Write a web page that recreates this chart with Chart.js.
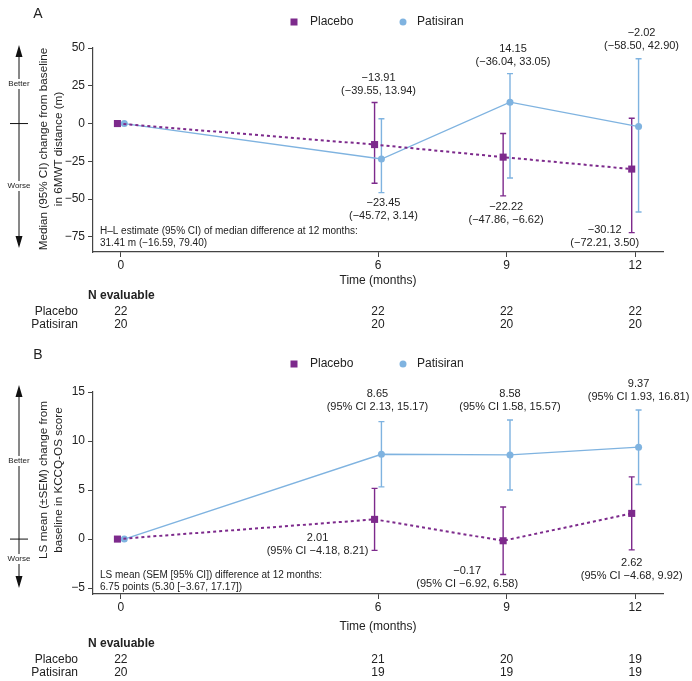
<!DOCTYPE html>
<html>
<head>
<meta charset="utf-8">
<script src="https://cdn.jsdelivr.net/npm/chart.js@4/dist/chart.umd.min.js"></script>
<style>
  body { margin: 0; background: #fff; }
  #wrap { position: relative; width: 692px; height: 681px; }
  canvas { position: absolute; left: 0; }
</style>
</head>
<body>
<div id="wrap">
  <canvas id="chartA" width="692" height="340" style="top:0"></canvas>
  <canvas id="chartB" width="692" height="341" style="top:340px"></canvas>
</div>
<script>
// time points and tick labels
const months = [0, 6, 9, 12];
const xTicks = [0, 6, 9, 12];

// panel A - 6MWT, median with 95% CI
const yTicksA = [-75, -50, -25, 0, 25, 50];
const placeboA = [0, -13.91, -22.22, -30.12];
const placeboALow = [0, -39.55, -47.86, -72.21];
const placeboAHigh = [0, 13.94, -6.62, 3.50];
const patisiranA = [0, -23.45, 14.15, -2.02];
const patisiranALow = [0, -45.72, -36.04, -58.50];
const patisiranAHigh = [0, 3.14, 33.05, 42.90];
const nPlaceboA = [22, 22, 22, 22];
const nPatisiranA = [20, 20, 20, 20];

// panel B - KCCQ-OS, LS mean with SEM bars, 95% CI in labels
const yTicksB = [-5, 0, 5, 10, 15];
const placeboB = [0, 2.01, -0.17, 2.62];
const placeboBSemLow = [0, -1.15, -3.61, -1.10];
const placeboBSemHigh = [0, 5.17, 3.27, 6.34];
const placeboBCILow = [0, -4.18, -6.92, -4.68];
const placeboBCIHigh = [0, 8.21, 6.58, 9.92];
const patisiranB = [0, 8.65, 8.58, 9.37];
const patisiranBSemLow = [0, 5.32, 5.01, 5.57];
const patisiranBSemHigh = [0, 11.98, 12.15, 13.17];
const patisiranBCILow = [0, 2.13, 1.58, 1.93];
const patisiranBCIHigh = [0, 15.17, 15.57, 16.81];
const nPlaceboB = [22, 21, 20, 19];
const nPatisiranB = [20, 19, 19, 19];

const FONT = '"Liberation Sans", Arial, sans-serif';
const PURPLE = '#7d2a8c';
const BLUE = '#7fb3e0';
const TEXT = '#222';
const AXIS = '#444';
const SHIFT = 0.08; // side-by-side offset so the bars don't overlap

function fmt(v) {
  return v.toFixed(2).replace('-', '\u2212');
}

// draws the whiskers under the points
const errorBars = {
  id: 'errorBars',
  beforeDatasetsDraw(chart) {
    const ctx = chart.ctx, y = chart.scales.y;
    chart.data.datasets.forEach((ds, di) => {
      const meta = chart.getDatasetMeta(di);
      ctx.save();
      ctx.strokeStyle = ds.borderColor;
      ctx.lineWidth = 1.4;
      meta.data.forEach((pt, i) => {
        if (ds.errLow[i] === ds.errHigh[i]) return;
        const top = y.getPixelForValue(ds.errHigh[i]);
        const bot = y.getPixelForValue(ds.errLow[i]);
        ctx.beginPath();
        ctx.moveTo(pt.x, top); ctx.lineTo(pt.x, bot);
        ctx.moveTo(pt.x - 3, top); ctx.lineTo(pt.x + 3, top);
        ctx.moveTo(pt.x - 3, bot); ctx.lineTo(pt.x + 3, bot);
        ctx.stroke();
      });
      ctx.restore();
    });
  }
};

// everything around the plot: legend, titles, arrow, labels, N table
const decorations = {
  id: 'decorations',
  afterDraw(chart, args, o) {
    const ctx = chart.ctx, x = chart.scales.x, y = chart.scales.y;
    ctx.save();
    ctx.fillStyle = TEXT;
    ctx.textBaseline = 'middle';

    // panel letter
    ctx.font = '14px ' + FONT;
    ctx.textAlign = 'center';
    ctx.fillText(o.letter, 38, o.letterY);

    // legend
    ctx.font = '12px ' + FONT;
    ctx.textAlign = 'left';
    ctx.fillStyle = PURPLE;
    ctx.fillRect(294 - 3.5, o.legendY - 3.5, 7, 7);
    ctx.fillStyle = TEXT;
    ctx.fillText('Placebo', 310, o.legendY);
    ctx.fillStyle = BLUE;
    ctx.beginPath(); ctx.arc(403, o.legendY, 3.5, 0, Math.PI * 2); ctx.fill();
    ctx.fillStyle = TEXT;
    ctx.fillText('Patisiran', 417, o.legendY);

    // y axis title, two lines
    ctx.save();
    ctx.translate(0, o.yTitleY);
    ctx.rotate(-Math.PI / 2);
    ctx.textAlign = 'center';
    ctx.font = '11.7px ' + FONT;
    ctx.fillText(o.yTitle[0], 0, 44);
    ctx.fillText(o.yTitle[1], 0, 59);
    ctx.restore();

    // better / worse arrow
    const zero = y.getPixelForValue(0);
    const ax = 19, aTop = 45, aBot = 248;
    ctx.strokeStyle = '#111';
    ctx.lineWidth = 1;
    ctx.beginPath();
    ctx.moveTo(ax, aTop + 8); ctx.lineTo(ax, aBot - 8);
    ctx.moveTo(10, zero); ctx.lineTo(28, zero);
    ctx.stroke();
    ctx.fillStyle = '#111';
    ctx.beginPath();
    ctx.moveTo(ax, aTop); ctx.lineTo(ax - 3.5, aTop + 12); ctx.lineTo(ax + 3.5, aTop + 12); ctx.closePath();
    ctx.moveTo(ax, aBot); ctx.lineTo(ax - 3.5, aBot - 12); ctx.lineTo(ax + 3.5, aBot - 12); ctx.closePath();
    ctx.fill();
    ctx.font = '8px ' + FONT;
    ctx.textAlign = 'center';
    [['Better', o.betterY], ['Worse', o.worseY]].forEach(([t, ty]) => {
      const w = ctx.measureText(t).width;
      ctx.fillStyle = '#fff';
      ctx.fillRect(ax - w / 2 - 1, ty - 5, w + 2, 10);
      ctx.fillStyle = TEXT;
      ctx.fillText(t, ax, ty);
    });

    // value labels next to whiskers
    ctx.font = '11px ' + FONT;
    chart.data.datasets.forEach((ds, di) => {
      const meta = chart.getDatasetMeta(di);
      ds.labelPlace.forEach((p, i) => {
        if (!p) return;
        const pt = meta.data[i];
        const endY = y.getPixelForValue(p.end === 'high' ? ds.errHigh[i] : ds.errLow[i]);
        const cx = pt.x + p.dx, ly = endY + p.dy;
        ctx.fillText(fmt(ds.vals[i]), cx, ly);
        ctx.fillText(ds.ciText(i), cx, ly + 13);
      });
    });

    // footnote inside plot
    ctx.font = '10px ' + FONT;
    ctx.textAlign = 'left';
    ctx.fillText(o.note[0], 100, o.noteY);
    ctx.fillText(o.note[1], 100, o.noteY + 12);

    // x title and N evaluable table
    ctx.font = '12px ' + FONT;
    ctx.textAlign = 'center';
    ctx.fillText('Time (months)', (x.left + x.right) / 2, o.xTitleY);
    ctx.font = 'bold 12px ' + FONT;
    ctx.textAlign = 'left';
    ctx.fillText('N evaluable', 88, o.nY);
    ctx.font = '12px ' + FONT;
    ctx.textAlign = 'right';
    ctx.fillText('Placebo', 78, o.nY + 16);
    ctx.fillText('Patisiran', 78, o.nY + 29);
    ctx.textAlign = 'center';
    months.forEach((m, i) => {
      const px = x.getPixelForValue(m);
      ctx.fillText(String(o.nPlacebo[i]), px, o.nY + 16);
      ctx.fillText(String(o.nPatisiran[i]), px, o.nY + 29);
    });
    ctx.restore();
  }
};

function makePanel(id, p) {
  const yTickList = p.yTicks;
  return new Chart(id, {
    type: 'line',
    data: {
      datasets: [
        {
          label: 'Placebo',
          data: months.map((m, i) => ({x: m - SHIFT, y: p.placebo[i]})),
          borderColor: PURPLE, backgroundColor: PURPLE,
          borderWidth: 2, borderDash: [3, 3],
          pointStyle: 'rect', pointRadius: 5, pointBorderWidth: 0,
          errLow: p.placeboLow, errHigh: p.placeboHigh,
          vals: p.placebo, ciText: p.placeboCI, labelPlace: p.placeboPlace
        },
        {
          label: 'Patisiran',
          data: months.map((m, i) => ({x: m + SHIFT, y: p.patisiran[i]})),
          borderColor: BLUE, backgroundColor: BLUE,
          borderWidth: 1.3,
          pointStyle: 'circle', pointRadius: 3.5, pointBorderWidth: 0,
          errLow: p.patisiranLow, errHigh: p.patisiranHigh,
          vals: p.patisiran, ciText: p.patisiranCI, labelPlace: p.patisiranPlace
        }
      ]
    },
    options: {
      responsive: false,
      animation: false,
      layout: {padding: {top: p.top, right: 29, left: 0, bottom: 0}},
      plugins: {legend: {display: false}, tooltip: {enabled: false}, decorations: p.deco},
      scales: {
        x: {
          type: 'linear', min: -0.65, max: 12.65,
          afterBuildTicks: s => { s.ticks = xTicks.map(v => ({value: v})); },
          afterFit: s => { s.height = p.xHeight; },
          grid: {drawOnChartArea: false, tickLength: 5, color: AXIS},
          border: {color: AXIS, width: 1.2},
          ticks: {color: TEXT, font: {size: 12, family: FONT}, padding: 1, maxRotation: 0}
        },
        y: {
          min: p.yMin, max: p.yMax,
          afterBuildTicks: s => { s.ticks = yTickList.map(v => ({value: v})); },
          afterFit: s => { s.width = 93; },
          grid: {drawOnChartArea: false, tickLength: 5, color: AXIS},
          border: {color: AXIS, width: 1.2},
          ticks: {color: TEXT, font: {size: 12, family: FONT}, padding: 3,
                  callback: v => String(v).replace('-', '\u2212')}
        }
      }
    },
    plugins: [errorBars, decorations]
  });
}

makePanel('chartA', {
  yTicks: yTicksA, yMin: -85, yMax: 50, top: 48, xHeight: 88,
  placebo: placeboA, placeboLow: placeboALow, placeboHigh: placeboAHigh,
  patisiran: patisiranA, patisiranLow: patisiranALow, patisiranHigh: patisiranAHigh,
  placeboCI: i => '(' + fmt(placeboALow[i]) + ', ' + fmt(placeboAHigh[i]) + ')',
  patisiranCI: i => '(' + fmt(patisiranALow[i]) + ', ' + fmt(patisiranAHigh[i]) + ')',
  placeboPlace: [null, {end: 'high', dx: 4, dy: -25}, {end: 'low', dx: 3, dy: 11}, {end: 'low', dx: -27, dy: -3}],
  patisiranPlace: [null, {end: 'low', dx: 2, dy: 10}, {end: 'high', dx: 3, dy: -25}, {end: 'high', dx: 3, dy: -26}],
  deco: {
    letter: 'A', letterY: 14, legendY: 22,
    yTitle: ['Median (95% CI) change from baseline', 'in 6MWT distance (m)'], yTitleY: 149,
    betterY: 84, worseY: 186,
    note: ['H\u2013L estimate (95% CI) of median difference at 12 months:', '31.41 m (\u221216.59, 79.40)'], noteY: 231,
    xTitleY: 281, nY: 296, nPlacebo: nPlaceboA, nPatisiran: nPatisiranA
  }
});

makePanel('chartB', {
  yTicks: yTicksB, yMin: -5.6, yMax: 15, top: 52, xHeight: 87,
  placebo: placeboB, placeboLow: placeboBSemLow, placeboHigh: placeboBSemHigh,
  patisiran: patisiranB, patisiranLow: patisiranBSemLow, patisiranHigh: patisiranBSemHigh,
  placeboCI: i => '(95% CI ' + fmt(placeboBCILow[i]) + ', ' + fmt(placeboBCIHigh[i]) + ')',
  patisiranCI: i => '(95% CI ' + fmt(patisiranBCILow[i]) + ', ' + fmt(patisiranBCIHigh[i]) + ')',
  placeboPlace: [null, {end: 'low', dx: -57, dy: -12}, {end: 'low', dx: -36, dy: -4}, {end: 'low', dx: 0, dy: 13}],
  patisiranPlace: [null, {end: 'high', dx: -4, dy: -28}, {end: 'high', dx: 0, dy: -26}, {end: 'high', dx: 0, dy: -26}],
  deco: {
    letter: 'B', letterY: 15, legendY: 24,
    yTitle: ['LS mean (\u00b1SEM) change from', 'baseline in KCCQ-OS score'], yTitleY: 140,
    betterY: 121, worseY: 219,
    note: ['LS mean (SEM [95% CI]) difference at 12 months:', '6.75 points (5.30 [\u22123.67, 17.17])'], noteY: 235,
    xTitleY: 287, nY: 304, nPlacebo: nPlaceboB, nPatisiran: nPatisiranB
  }
});
</script>
</body>
</html>
